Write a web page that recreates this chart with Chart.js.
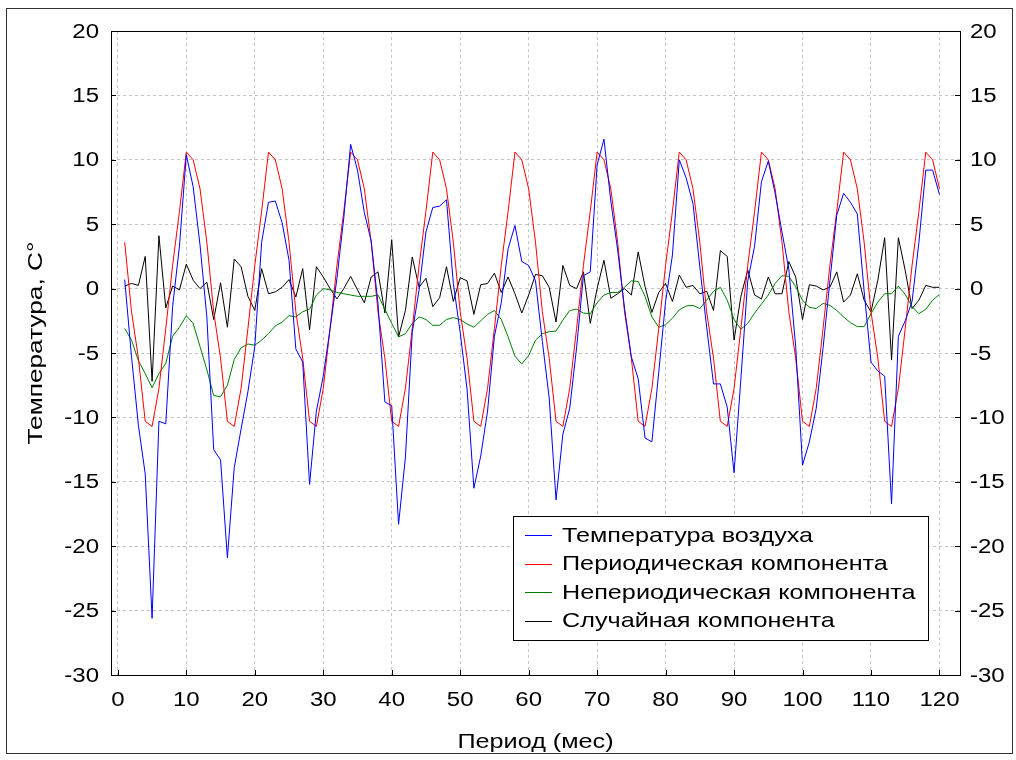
<!DOCTYPE html>
<html lang="ru">
  <head>
    <meta charset="UTF-8" />
    <title>Температура воздуха</title>
    <script src="https://cdn.jsdelivr.net/npm/chart.js"></script>
    <style>
      body { margin: 0; background: #fff; }
      #wrap { width: 1016px; height: 760px; }
    </style>
  </head>
  <body>
    <div id="wrap"><canvas id="chart" width="1016" height="760"></canvas></div>
    <script>
      // month index 1..120
      const months = Array.from({ length: 120 }, (_, i) => i + 1);
      const xTicks = [0, 10, 20, 30, 40, 50, 60, 70, 80, 90, 100, 110, 120];
      const yTicks = [20, 15, 10, 5, 0, -5, -10, -15, -20, -25, -30];

      const airTemp = [
        0.7, -5.3, -10.6, -14.4, -25.6, -10.3, -10.5, -1.4, 3.3, 10.4,
        7.9, 3.4, -2.2, -12.5, -13.3, -20.9, -13.9, -10.9, -8.0, -4.5,
        3.6, 6.7, 6.8, 5.1, 2.2, -4.7, -5.7, -15.2, -9.5, -6.8,
        -3.1, 0.8, 5.5, 11.2, 9.2, 5.9, 3.7, -1.2, -8.8, -9.1,
        -18.3, -13.1, -3.4, -0.1, 4.4, 6.3, 6.4, 6.9, 0.4, -3.4,
        -7.8, -15.5, -13.0, -9.5, -3.7, -1.1, 3.1, 4.9, 2.1, 1.8,
        0.6, -4.1, -8.5, -16.4, -11.3, -9.3, -4.6, 1.0, 1.3, 9.6,
        11.6, 6.8, 3.0, -1.5, -5.3, -7.0, -11.6, -11.9, -6.5, -1.0,
        2.6, 10.0, 8.6, 6.6, 1.7, -3.0, -7.4, -7.4, -9.2, -14.3,
        -7.0, 0.6, 3.3, 8.3, 9.9, 7.4, 4.4, 1.5, -4.5, -13.7,
        -11.9, -9.3, -4.6, 0.6, 5.7, 7.4, 6.7, 5.8, -0.2, -5.7,
        -6.4, -6.8, -16.7, -3.7, -2.5, -1.0, 3.6, 9.2, 9.2, 7.3
      ];

      const periodic = [
        3.6, -1.8, -5.4, -10.3, -10.7, -7.75, -3.1, 1.8, 6.0, 10.6, 10.0, 7.75,
        3.6, -1.8, -5.4, -10.3, -10.7, -7.75, -3.1, 1.8, 6.0, 10.6, 10.0, 7.75,
        3.6, -1.8, -5.4, -10.3, -10.7, -7.75, -3.1, 1.8, 6.0, 10.6, 10.0, 7.75,
        3.6, -1.8, -5.4, -10.3, -10.7, -7.75, -3.1, 1.8, 6.0, 10.6, 10.0, 7.75,
        3.6, -1.8, -5.4, -10.3, -10.7, -7.75, -3.1, 1.8, 6.0, 10.6, 10.0, 7.75,
        3.6, -1.8, -5.4, -10.3, -10.7, -7.75, -3.1, 1.8, 6.0, 10.6, 10.0, 7.75,
        3.6, -1.8, -5.4, -10.3, -10.7, -7.75, -3.1, 1.8, 6.0, 10.6, 10.0, 7.75,
        3.6, -1.8, -5.4, -10.3, -10.7, -7.75, -3.1, 1.8, 6.0, 10.6, 10.0, 7.75,
        3.6, -1.8, -5.4, -10.3, -10.7, -7.75, -3.1, 1.8, 6.0, 10.6, 10.0, 7.75,
        3.6, -1.8, -5.4, -10.3, -10.7, -7.75, -3.1, 1.8, 6.0, 10.6, 10.0, 7.75
      ];

      const nonPeriodic = [
        -3.1, -4.0, -5.6, -6.6, -7.7, -6.6, -5.8, -3.7, -3.0, -2.1,
        -2.7, -4.5, -6.3, -8.3, -8.4, -7.5, -5.5, -4.6, -4.3, -4.4,
        -4.0, -3.5, -2.9, -2.6, -2.1, -2.2, -1.8, -1.6, -0.5, 0.0,
        -0.1, -0.3, -0.4, -0.5, -0.6, -0.6, -0.6, -0.5, -1.6, -2.7,
        -3.75, -3.5, -2.7, -2.2, -2.4, -2.85, -2.85, -2.4, -2.25, -2.4,
        -2.75, -3.0, -2.5, -2.0, -1.7, -2.4, -3.75, -5.25, -5.85, -5.2,
        -4.0, -3.5, -3.35, -3.3, -2.45, -1.7, -1.6, -1.9, -1.95, -1.1,
        -0.5, -0.3, -0.3, 0.1, 0.6, 0.55, -0.6, -2.2, -3.0, -2.8,
        -2.3, -1.65, -1.35, -1.3, -1.55, -0.9, -0.2, 0.1, -0.9, -2.4,
        -3.15, -2.7, -1.9, -1.2, -0.5, 0.4, 1.0, 0.95, 0.15, -0.9,
        -1.45, -1.55, -1.15, -1.3, -1.7, -2.2, -2.65, -2.95, -2.95, -1.95,
        -1.05, -0.4, -0.4, 0.2, -0.45, -1.4, -1.95, -1.6, -0.9, -0.45
      ];

      const randomPart = [
        0.2, 0.4, 0.25, 2.5, -7.2, 4.1, -1.5, 0.2, -0.1, 1.9,
        0.65, 0.0, 0.5, -2.4, 0.45, -3.0, 2.3, 1.7, -0.6, -1.7,
        1.55, -0.4, -0.25, 0.1, 0.7, -0.65, 1.55, -3.2, 1.7, 0.9,
        0.0, -0.8, 0.0, 0.95, -0.1, -1.1, 0.9, 1.3, -1.9, 3.8,
        -3.75, -1.7, 2.45, 0.1, 0.8, -1.4, -0.7, 1.7, -1.0, 0.85,
        0.6, -2.0, 0.3, 0.4, 1.2, -0.3, 0.9, -0.4, -1.9, -0.5,
        1.1, 1.0, 0.1, -2.6, 1.8, 0.25, 0.0, 1.3, -2.7, 0.0,
        2.2, -0.75, -0.4, 0.0, -0.5, 2.85, 0.15, -1.85, -0.3, 0.4,
        -1.0, 1.05, 0.1, 0.25, -0.4, -0.2, -1.7, 2.95, 2.5, -4.0,
        -0.6, 1.45, -0.5, -0.8, 0.9, -0.4, -0.4, 2.1, 0.9, -2.4,
        0.3, 0.2, -0.1, 0.1, 1.3, -1.05, -0.5, 1.15, -0.9, -1.8,
        0.65, 3.95, -5.55, 3.95, 1.4, -1.55, -0.9, 0.25, 0.1, 0.1
      ];

      const seriesNames = [
        "Температура воздуха",
        "Периодическая компонента",
        "Непериодическая компонента",
        "Случайная компонента"
      ];
      const seriesColors = ["#0000ff", "#ff0000", "#008000", "#000000"];
      const seriesValues = [airTemp, periodic, nonPeriodic, randomPart];
      const xTitle = "Период (мес)";
      const yTitle = "Температура, С°";

      const FONT = "'Liberation Sans', Arial, sans-serif";
      const SX = 1.2; // the reference text is drawn a bit wide

      // text with horizontal stretch, anchored at (x, y)
      function wideText(c, text, x, y, align, sx, rot) {
        c.save();
        c.translate(x, y);
        if (rot) c.rotate(rot);
        c.scale(sx, 1);
        c.textAlign = align;
        c.fillText(text, 0, 0);
        c.restore();
      }

      // frame, inward ticks, labels, legend box, outer border
      const decorations = {
        id: "decorations",
        beforeDraw(chart) {
          const c = chart.ctx;
          c.save();
          c.fillStyle = "#fff";
          c.fillRect(0, 0, chart.width, chart.height);
          c.restore();
        },
        afterDraw(chart) {
          const c = chart.ctx;
          const a = chart.chartArea;
          const xs = chart.scales.x, ys = chart.scales.y;
          c.save();
          c.strokeStyle = "#000";
          c.lineWidth = 1;
          c.strokeRect(Math.round(a.left) + 0.5, Math.round(a.top) + 0.5,
            Math.round(a.right - a.left), Math.round(a.bottom - a.top));
          c.beginPath();
          yTicks.forEach((v) => {
            const y = Math.round(ys.getPixelForValue(v)) + 0.5;
            c.moveTo(a.left, y); c.lineTo(a.left + 5, y);
            c.moveTo(a.right, y); c.lineTo(a.right - 5, y);
          });
          xTicks.forEach((v) => {
            const x = Math.round(xs.getPixelForValue(v)) + 0.5;
            c.moveTo(x, a.bottom); c.lineTo(x, a.bottom - 5);
          });
          c.stroke();

          // tick labels
          c.fillStyle = "#000";
          c.font = "20px " + FONT;
          c.textBaseline = "middle";
          yTicks.forEach((v) => {
            const y = ys.getPixelForValue(v) + 1;
            wideText(c, String(v), a.left - 12, y, "right", SX);
            wideText(c, String(v), a.right + 10, y, "left", SX);
          });
          xTicks.forEach((v) => {
            wideText(c, String(v), xs.getPixelForValue(v), a.bottom + 25, "center", SX);
          });

          // axis titles
          c.font = "21px " + FONT;
          wideText(c, xTitle, (a.left + a.right) / 2, 742, "center", SX);
          wideText(c, yTitle, 36, (a.top + a.bottom) / 2 - 10, "center", 1.25, -Math.PI / 2);

          // legend
          const lx = 513, ly = 516, lw = 415, lh = 124;
          c.fillStyle = "#fff";
          c.fillRect(lx, ly, lw, lh);
          c.strokeRect(lx + 0.5, ly + 0.5, lw, lh);
          c.font = "21px " + FONT;
          chart.data.datasets.forEach((ds, i) => {
            const y = ly + 19 + i * 28.5;
            c.strokeStyle = ds.borderColor;
            c.beginPath();
            c.moveTo(525, Math.round(y) + 0.5);
            c.lineTo(552, Math.round(y) + 0.5);
            c.stroke();
            c.fillStyle = "#000";
            wideText(c, ds.label, 562, y + 1, "left", SX);
          });

          // outer border
          c.strokeStyle = "#333";
          c.strokeRect(6.5, 8.5, 1006, 745);
          c.restore();
        }
      };

      new Chart(document.getElementById("chart"), {
        type: "line",
        data: {
          datasets: seriesValues.map((vals, i) => ({
            label: seriesNames[i],
            data: vals.map((v, j) => ({ x: months[j], y: v })),
            borderColor: seriesColors[i],
            borderWidth: 1,
            pointRadius: 0,
            tension: 0,
            fill: false
          }))
        },
        options: {
          responsive: false,
          animation: false,
          layout: { padding: { top: 31, left: 0, right: 0, bottom: 0 } },
          plugins: { legend: { display: false }, tooltip: { enabled: false } },
          scales: {
            x: {
              type: "linear",
              min: -1,
              max: 123,
              afterBuildTicks: (s) => { s.ticks = xTicks.map((v) => ({ value: v })); },
              afterFit: (s) => { s.height = 85; },
              ticks: { display: false },
              grid: { color: "#c4c4c4", drawTicks: false },
              border: { display: false, dash: [3, 3] }
            },
            y: {
              position: "left",
              min: -30,
              max: 20,
              afterBuildTicks: (s) => { s.ticks = yTicks.map((v) => ({ value: v })); },
              afterFit: (s) => { s.width = 111; },
              ticks: { display: false },
              grid: { color: "#c4c4c4", drawTicks: false },
              border: { display: false, dash: [3, 3] }
            },
            y2: {
              position: "right",
              min: -30,
              max: 20,
              afterFit: (s) => { s.width = 56; },
              ticks: { display: false },
              grid: { display: false, drawTicks: false },
              border: { display: false }
            }
          }
        },
        plugins: [decorations]
      });
    </script>
  </body>
</html>
